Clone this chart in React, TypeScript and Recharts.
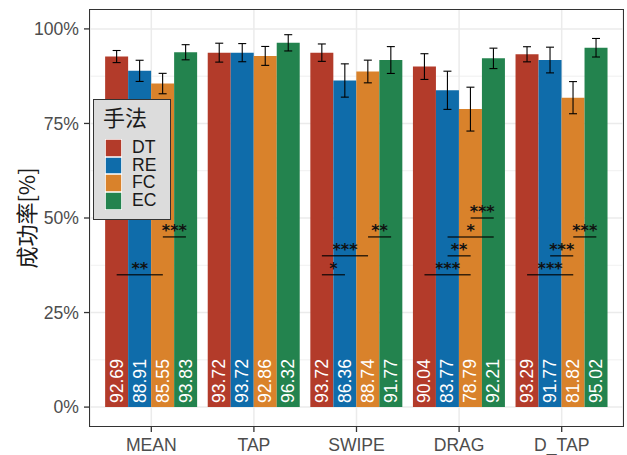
import React from "react";
import {
  Bar,
  BarChart,
  CartesianGrid,
  ErrorBar,
  LabelList,
  Legend,
  ReferenceLine,
  XAxis,
  YAxis,
} from "recharts";

const categories = ["MEAN", "TAP", "SWIPE", "DRAG", "D_TAP"];
const methods = ["DT", "RE", "FC", "EC"];
const colors = ["#B33B2A", "#0F6CAA", "#D9822B", "#23834E"];

// success rate (%) per method, in category order
const dtRate = [92.69, 93.72, 93.72, 90.04, 93.29];
const reRate = [88.91, 93.72, 86.36, 83.77, 91.77];
const fcRate = [85.55, 92.86, 88.74, 78.79, 81.82];
const ecRate = [93.83, 96.32, 91.77, 92.21, 95.02];

// error bar half widths
const dtErr = [1.6, 2.5, 2.3, 3.4, 2.0];
const reErr = [2.8, 2.4, 4.4, 5.05, 3.4];
const fcErr = [2.7, 2.5, 3.0, 5.8, 4.25];
const ecErr = [2.0, 2.15, 3.55, 2.7, 2.45];

const yTicks = [0, 25, 50, 75, 100];
const yMinor = [12.5, 37.5, 62.5, 87.5];

// significance brackets: category, from method, to method, height, stars
const sigCats = ["MEAN", "MEAN", "SWIPE", "SWIPE", "SWIPE", "DRAG", "DRAG", "DRAG", "DRAG", "D_TAP", "D_TAP", "D_TAP"];
const sigFrom = ["DT", "FC", "DT", "DT", "FC", "DT", "RE", "RE", "FC", "DT", "RE", "FC"];
const sigTo = ["FC", "EC", "RE", "FC", "EC", "FC", "FC", "EC", "EC", "FC", "FC", "EC"];
const sigY = [35, 45, 35, 40, 45, 35, 40, 45, 50, 35, 40, 45];
const sigText = ["**", "***", "*", "***", "**", "***", "**", "*", "***", "***", "***", "***"];

const rates = [dtRate, reRate, fcRate, ecRate];
const errs = [dtErr, reErr, fcErr, ecErr];

const data = categories.map((name, i) => {
  const row: Record<string, any> = { name, idx: i };
  methods.forEach((m, j) => {
    row[m] = rates[j][i];
    row[m + "_err"] = errs[j][i];
  });
  return row;
});

// layout of the plot area
const CHART_W = 627;
const PLOT_LEFT = 90;
const PLOT_RIGHT = 623;
const X_PAD = 10;
const BAND = (PLOT_RIGHT - PLOT_LEFT - 2 * X_PAD) / categories.length;

// dodge step of one bar within a category, as a fraction of the category band
const BAR_STEP = 0.9 / methods.length;
const barPos = (cat: string, m: string) =>
  categories.indexOf(cat) + (methods.indexOf(m) - (methods.length - 1) / 2) * BAR_STEP;

const sigs = sigCats.map((c, i) => ({
  x1: barPos(c, sigFrom[i]),
  x2: barPos(c, sigTo[i]),
  y: sigY[i],
  text: sigText[i],
}));

const LATIN = '"Liberation Sans", Arial, sans-serif';
const CJK = '"Noto Sans CJK SC", "Noto Sans CJK JP", sans-serif';

const ValueLabel = (props: any) => {
  const { x, y, width, height, value } = props;
  const cx = x + width / 2;
  const by = y + height - 4;
  return (
    <text
      x={cx}
      y={by}
      transform={`rotate(-90 ${cx} ${by})`}
      fill="#ffffff"
      fontSize={17.6}
      fontFamily={LATIN}
      textAnchor="start"
      dominantBaseline="central"
    >
      {Number(value).toFixed(2)}
    </text>
  );
};

const SigStars = (props: any) => {
  const { viewBox, text } = props;
  const cx = viewBox.x + viewBox.width / 2;
  return (
    <text
      x={cx}
      y={viewBox.y - 1}
      textAnchor="middle"
      fontSize={16}
      fontWeight="bold"
      fontFamily='"DejaVu Sans", sans-serif'
      fill="#111"
    >
      {text}
    </text>
  );
};

const LegendBox = () => (
  <div
    style={{
      position: "relative",
      width: 78.5,
      height: 121,
      background: "#DCDCDC",
      border: "1.3px solid #333",
      boxSizing: "border-box",
    }}
  >
    <div
      style={{
        position: "absolute",
        left: 9.5,
        top: 3,
        fontSize: 22,
        lineHeight: "26px",
        fontFamily: CJK,
        color: "#1a1a1a",
        whiteSpace: "nowrap",
      }}
    >
      手法
    </div>
    {methods.map((m, i) => (
      <div
        key={m}
        style={{ position: "absolute", left: 11.2, top: 39.5 + i * 17.7, height: 17.7, display: "flex", alignItems: "center" }}
      >
        <div style={{ width: 17.3, height: 17.7, background: colors[i], boxShadow: "inset 0 0 0 0.8px #fff" }} />
        <span
          style={{
            display: "inline-block",
            height: 17.7,
            overflow: "visible",
            marginLeft: 10,
            fontSize: 17.6,
            fontFamily: LATIN,
            color: "#1a1a1a",
            lineHeight: "17.7px",
          }}
        >
          {m}
        </span>
      </div>
    ))}
  </div>
);

export default function App() {
  return (
    <div style={{ position: "absolute", left: 0, top: 0, width: CHART_W, height: 455, background: "#fff" }}>
      <BarChart
        width={CHART_W}
        height={455}
        data={data}
        margin={{ top: 10, right: CHART_W - PLOT_RIGHT, bottom: 0, left: 0 }}
        barCategoryGap="5%"
        barGap={0}
      >
        <CartesianGrid stroke="#EBEBEB" strokeWidth={1.5} horizontalValues={yTicks} />
        <CartesianGrid stroke="#EBEBEB" strokeWidth={0.75} horizontalValues={yMinor} vertical={false} />
        <XAxis
          dataKey="name"
          padding={{ left: X_PAD, right: X_PAD }}
          height={29}
          axisLine={false}
          tickLine={{ stroke: "#333", strokeWidth: 1.3 }}
          tickSize={6}
          tickMargin={7}
          tick={{ fill: "#4D4D4D", fontSize: 17.6, fontFamily: LATIN }}
        />
        <XAxis
          xAxisId="sig"
          dataKey="idx"
          type="number"
          domain={[0, categories.length - 1]}
          allowDataOverflow
          hide
          padding={{ left: X_PAD + BAND / 2, right: X_PAD + BAND / 2 }}
        />
        <YAxis
          width={PLOT_LEFT}
          domain={[-5, 105]}
          allowDataOverflow
          ticks={yTicks}
          tickFormatter={(v) => `${v}%`}
          axisLine={false}
          tickLine={{ stroke: "#333", strokeWidth: 1.3 }}
          tickSize={6}
          tickMargin={5}
          tick={{ fill: "#4D4D4D", fontSize: 17.6, fontFamily: LATIN }}
          label={() => (
            <text
              x={25}
              y={218}
              transform="rotate(-90 25 218)"
              textAnchor="middle"
              dominantBaseline="central"
              fontSize={22}
              fontFamily={CJK}
              fill="#1a1a1a"
            >
              成功率[%]
            </text>
          )}
        />
        {methods.map((m, j) => (
          <Bar key={m} dataKey={m} fill={colors[j]} isAnimationActive={false}>
            <ErrorBar dataKey={m + "_err"} width={4} stroke="#000" strokeWidth={1.1} direction="y" />
            <LabelList dataKey={m} content={ValueLabel} />
          </Bar>
        ))}
        {sigs.map((s, i) => (
          <ReferenceLine
            key={i}
            xAxisId="sig"
            segment={[
              { x: s.x1, y: s.y },
              { x: s.x2, y: s.y },
            ]}
            stroke="#000"
            strokeOpacity={0.75}
            strokeWidth={1.5}
            ifOverflow="visible"
            label={(p: any) => <SigStars {...p} text={s.text} />}
          />
        ))}
        <Legend
          layout="horizontal"
          align="center"
          verticalAlign="middle"
          wrapperStyle={{ left: 92.5, top: 98.5, width: "auto", height: "auto" }}
          content={() => <LegendBox />}
        />
      </BarChart>
      <div
        style={{
          position: "absolute",
          left: PLOT_LEFT - 0.8,
          top: 9.2,
          width: PLOT_RIGHT - PLOT_LEFT + 1.6,
          height: 417.6,
          border: "1.6px solid #333",
          boxSizing: "border-box",
          pointerEvents: "none",
        }}
      />
    </div>
  );
}
